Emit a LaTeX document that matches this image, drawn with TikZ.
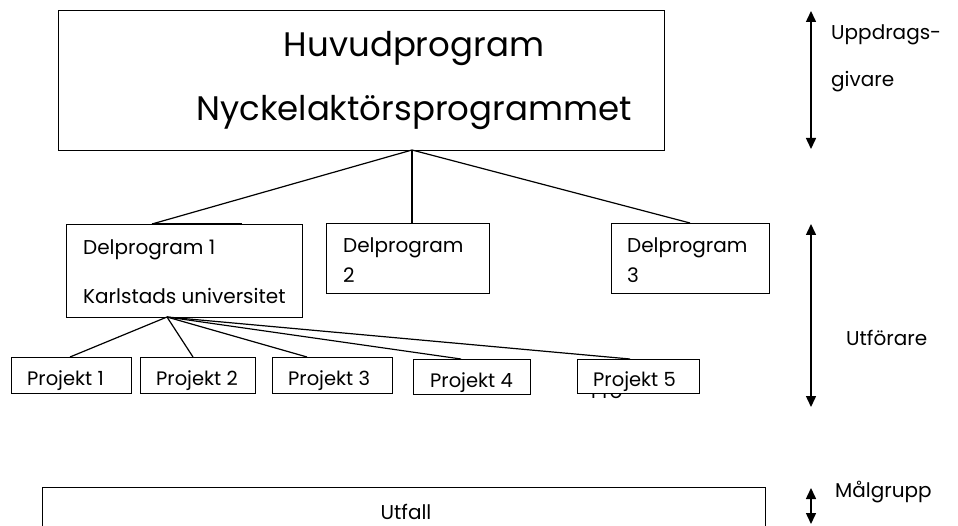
\documentclass[tikz,border=0pt]{standalone}
\usepackage{fontspec}
\setmainfont{Poppins}
\usetikzlibrary{arrows.meta}

\begin{document}
\begin{tikzpicture}[x=1pt,y=-1pt,
  box/.style={draw, line width=1.2pt, fill=white, inner sep=0pt, anchor=north west},
  link/.style={line width=1.2pt},
  span/.style={line width=1.5pt, {Triangle[width=10pt,length=11pt]}-{Triangle[width=10pt,length=11pt]}},
  txt/.style={inner sep=0pt, anchor=base west},
  ctxt/.style={inner sep=0pt, anchor=base},
  bigtxt/.style={ctxt, font=\fontsize{34}{34}\selectfont},
  midtxt/.style={txt, font=\fontsize{20}{20}\selectfont},
  smalltxt/.style={txt, font=\fontsize{19.5}{19.5}\selectfont},
  sidetxt/.style={txt, font=\fontsize{20}{20}\selectfont}]
\useasboundingbox (0,0) rectangle (958,526);

% main programme
\node[box, minimum width=606pt, minimum height=140pt] (main) at (58,10) {};
\node[bigtxt] (mainA) at (414,57) {Huvudprogram};
\node[bigtxt] (mainB) at (414,121) {Nyckelaktörsprogrammet};
\coordinate (hub) at (412,150);

% sub-programmes
\node[box, minimum width=236pt, minimum height=93pt] (d1) at (66,224) {};
\draw[line width=1pt] ([xshift=86pt,yshift=0.6pt]d1.north west) -- ([xshift=176pt,yshift=0.6pt]d1.north west);
\node[midtxt] (d1a) at (83,255) {Delprogram 1};
\node[midtxt] (d1b) at (83,304) {Karlstads universitet};

\node[box, minimum width=163pt, minimum height=70pt] (d2) at (326,223) {};
\node[midtxt] (d2a) at (343,253) {Delprogram};
\node[midtxt] (d2b) at (343,283) {2};

\node[box, minimum width=158pt, minimum height=70pt] (d3) at (611,223) {};
\node[midtxt] (d3a) at (627,253) {Delprogram};
\node[midtxt] (d3b) at (627,283) {3};

\draw[link] (hub) -- ([xshift=86pt]d1.north west);
\draw[link] (hub) -- ([xshift=86pt]d2.north west);
\draw[link] (hub) -- ([xshift=79pt]d3.north west);

% projects under sub-programme 1
\coordinate (d1hub) at (167,317);
% leftover text, mostly hidden behind the fifth project box
\node[smalltxt] (stray) at (591,398) {Pro};
\node[box, minimum width=120pt, minimum height=36pt] (p1) at (11,357) {};
\node[box, minimum width=115pt, minimum height=36pt] (p2) at (140,357) {};
\node[box, minimum width=120pt, minimum height=36pt] (p3) at (272,357) {};
\node[box, minimum width=117pt, minimum height=35pt] (p4) at (413,359) {};
\node[box, minimum width=122pt, minimum height=34pt] (p5) at (577,359) {};
\node[smalltxt] (p1t) at (27,385) {Projekt 1};
\node[smalltxt] (p2t) at (156,385) {Projekt 2};
\node[smalltxt] (p3t) at (288,385) {Projekt 3};
\node[smalltxt] (p4t) at (430,387) {Projekt 4};
\node[smalltxt] (p5t) at (593,386) {Projekt 5};

\draw[link] (d1hub) -- ([xshift=59pt]p1.north west);
\draw[link] (d1hub) -- ([xshift=53pt]p2.north west);
\draw[link] (d1hub) -- ([xshift=35pt]p3.north west);
\draw[link] (d1hub) -- ([xshift=48pt]p4.north west);
\draw[link] (d1hub) -- ([xshift=53pt]p5.north west);

% outcome
\node[box, minimum width=723pt, minimum height=40pt] (out) at (42,487) {};
\node[ctxt, font=\fontsize{20}{20}\selectfont] (outt) at (406,519) {Utfall};

% levels on the right
\coordinate (a1t) at (811,11);
\coordinate (a1b) at (811,149);
\coordinate (a2t) at (811,224);
\coordinate (a2b) at (811,407);
\coordinate (a3t) at (811,488);
\coordinate (a3b) at (811,524);
\draw[span] (a1t) -- (a1b);
\draw[span] (a2t) -- (a2b);
\draw[span] (a3t) -- (a3b);
\node[sidetxt] (l1a) at (831,40) {Uppdrags-};
\node[sidetxt] (l1b) at (831,87) {givare};
\node[sidetxt] (l2) at (846,346) {Utförare};
\node[sidetxt] (l3) at (835,497) {Målgrupp};
\end{tikzpicture}
\end{document}
